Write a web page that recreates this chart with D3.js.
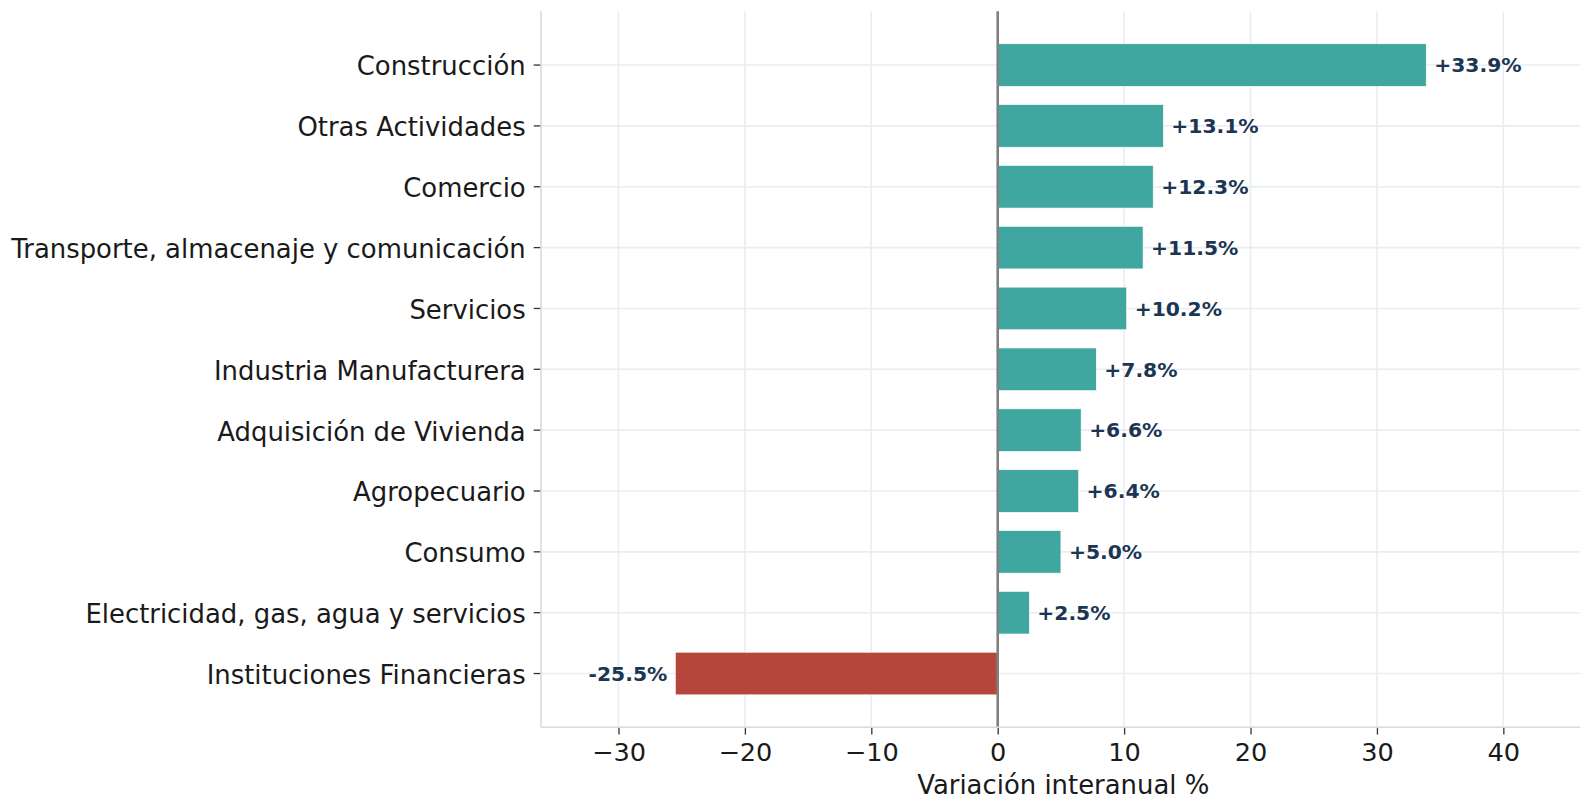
<!DOCTYPE html>
<html>
<head>
<meta charset="utf-8">
<script src="https://cdn.jsdelivr.net/npm/d3@7"></script>
<style>
  html, body { margin: 0; padding: 0; background: #ffffff; }
  svg { display: block; }
</style>
</head>
<body>
<svg id="chart" width="1580" height="799"></svg>
<script>
// ---- data ----
const categories = [
  "Construcción",
  "Otras Actividades",
  "Comercio",
  "Transporte, almacenaje y comunicación",
  "Servicios",
  "Industria Manufacturera",
  "Adquisición de Vivienda",
  "Agropecuario",
  "Consumo",
  "Electricidad, gas, agua y servicios",
  "Instituciones Financieras"
];
const values = [33.9, 13.1, 12.3, 11.5, 10.2, 7.8, 6.6, 6.4, 5.0, 2.5, -25.5];
const xTicks = [-30, -20, -10, 0, 10, 20, 30, 40];
const xLabel = "Variación interanual %";

(function () {
// ---- layout ----
const pLeft = 541, pRight = 1585.5, pTop = 11.3, pBottom = 727.3;
const font = "'DejaVu Sans', sans-serif";
const posColor = "#40a6a0", negColor = "#b4463b", labelColor = "#1b3552";

const svg = d3.select("#chart");

const x = d3.scaleLinear().domain([-36.13, 46.5]).range([pLeft, pRight]);
const y = d3.scaleBand().domain(categories).range([pTop, pBottom])
  .paddingInner(0.3).paddingOuter(0.5335);

const data = categories.map((c, i) => ({ cat: c, val: values[i] }));

// grid
const grid = svg.append("g");
grid.selectAll("line.v").data(xTicks).enter().append("line")
  .attr("x1", d => x(d)).attr("x2", d => x(d))
  .attr("y1", pTop).attr("y2", pBottom)
  .attr("stroke", "#e8edf2").attr("stroke-width", 1.6);
grid.selectAll("line.h").data(categories).enter().append("line")
  .attr("x1", pLeft).attr("x2", pRight)
  .attr("y1", d => y(d) + y.bandwidth() / 2).attr("y2", d => y(d) + y.bandwidth() / 2)
  .attr("stroke", "#e8edf2").attr("stroke-width", 1.6);

// bars
svg.append("g").selectAll("rect").data(data).enter().append("rect")
  .attr("x", d => x(Math.min(0, d.val)))
  .attr("width", d => Math.abs(x(d.val) - x(0)))
  .attr("y", d => y(d.cat))
  .attr("height", y.bandwidth())
  .attr("fill", d => d.val >= 0 ? posColor : negColor)
  .attr("stroke", "#ffffff").attr("stroke-width", 0.6);

// zero line
svg.append("line")
  .attr("x1", x(0)).attr("x2", x(0)).attr("y1", pTop).attr("y2", pBottom)
  .attr("stroke", "#808080").attr("stroke-width", 2.6);

// value labels
svg.append("g").selectAll("text").data(data).enter().append("text")
  .attr("x", d => d.val >= 0 ? x(d.val) + 8 : x(d.val) - 8)
  .attr("y", d => y(d.cat) + y.bandwidth() / 2)
  .attr("dy", "0.36em")
  .attr("text-anchor", d => d.val >= 0 ? "start" : "end")
  .attr("font-family", font).attr("font-weight", "bold").attr("font-size", "20.3px")
  .attr("fill", labelColor)
  .text(d => (d.val >= 0 ? "+" : "-") + Math.abs(d.val).toFixed(1) + "%");

// spines
svg.append("line").attr("x1", pLeft).attr("x2", pLeft).attr("y1", pTop).attr("y2", pBottom)
  .attr("stroke", "#d3dbe4").attr("stroke-width", 1.6);
svg.append("line").attr("x1", pLeft).attr("x2", pRight).attr("y1", pBottom).attr("y2", pBottom)
  .attr("stroke", "#d3dbe4").attr("stroke-width", 1.6);

// y axis
const yAxis = d3.axisLeft(y).tickSize(6.5).tickPadding(8);
const gy = svg.append("g").attr("transform", `translate(${pLeft - 0.8},0)`).call(yAxis);
gy.select(".domain").remove();
gy.selectAll(".tick line").attr("stroke", "#333333").attr("stroke-width", 1.3);
gy.selectAll(".tick text").attr("font-family", font).attr("font-size", "25.9px")
  .attr("dy", "0.40em").attr("fill", "#1a1a1a");

// x axis
const xAxis = d3.axisBottom(x).tickValues(xTicks).tickSize(6.5).tickPadding(8)
  .tickFormat(d => d < 0 ? "\u2212" + Math.abs(d) : String(d));
const gx = svg.append("g").attr("transform", `translate(0,${pBottom + 0.8})`).call(xAxis);
gx.select(".domain").remove();
gx.selectAll(".tick line").attr("stroke", "#333333").attr("stroke-width", 1.3);
gx.selectAll(".tick text").attr("font-family", font).attr("font-size", "25.6px")
  .attr("fill", "#1a1a1a");

// x label
svg.append("text")
  .attr("x", (pLeft + pRight) / 2).attr("y", 794)
  .attr("text-anchor", "middle")
  .attr("font-family", font).attr("font-size", "25.9px").attr("fill", "#1a1a1a")
  .text(xLabel);
})();
</script>
</body>
</html>
